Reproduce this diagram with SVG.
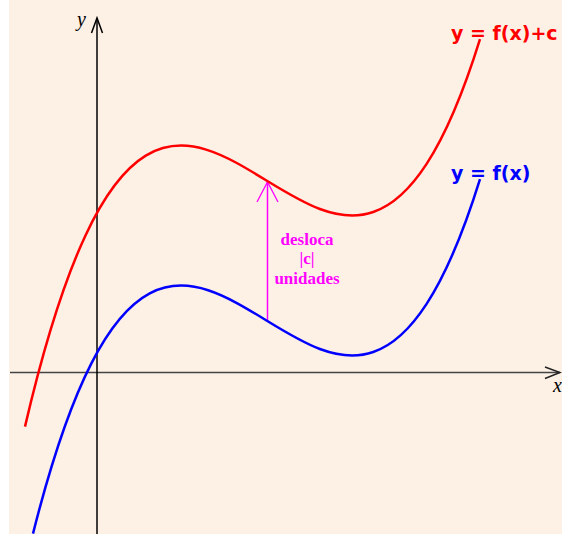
<svg xmlns="http://www.w3.org/2000/svg" width="562" height="534" viewBox="0 0 562 534">
<style>
.axis{fill:none;stroke-width:1.5}
.curve{fill:none;stroke-width:2.5}
.lbl{font-family:"DejaVu Sans",sans-serif;font-weight:bold;font-size:19px}
.mag{font-family:"Liberation Serif",serif;font-weight:bold;font-size:17px;fill:#ff00ff;text-anchor:middle}
.ax{font-family:"Liberation Serif",serif;font-style:italic;font-size:20px;fill:#000}
</style>
<rect x="0" y="0" width="562" height="534" fill="#ffffff"/>
<rect x="9" y="0" width="553" height="534" fill="#fdf1e5"/>
<g id="connectors">
<g id="x-axis">
<line class="axis" x1="10" y1="372.5" x2="560" y2="372.5" stroke="#444"/>
<polyline class="axis" points="545,367 560,372.5 545,378.5" stroke="#222"/>
</g>
<g id="y-axis">
<line class="axis" x1="97" y1="534" x2="97" y2="18" stroke="#000"/>
<polyline class="axis" points="91.5,33 97,18 102.5,33" stroke="#000"/>
</g>
<g id="shift-arrow">
<line x1="267.5" y1="321" x2="267.5" y2="182" stroke="#ff00ff" stroke-width="1.5"/>
<polyline points="257,202 267.5,182 278,202" fill="none" stroke="#ff00ff" stroke-width="1.3"/>
</g>
</g>
<g id="curve-f">
<path class="curve" stroke="#0000ff" d="M33,533.6 C182,-57.3 331,658.1 480,179.1"/>
</g>
<g id="curve-fc">
<path class="curve" stroke="#ff0000" d="M25,426.6 C176.67,-223.3 328.33,526.7 480,39.1"/>
</g>
<g id="label-y"><text class="ax" x="77" y="26">y</text></g>
<g id="label-x"><text class="ax" x="553" y="392">x</text></g>
<g id="label-fc"><text class="lbl" fill="#ff0000" x="451" y="40">y = f(x)+c</text></g>
<g id="label-f"><text class="lbl" fill="#0000ff" x="451" y="180">y = f(x)</text></g>
<g id="label-shift">
<text class="mag" x="307" y="245">desloca</text>
<text class="mag" x="307" y="264">|c|</text>
<text class="mag" x="307" y="284">unidades</text>
</g>
</svg>
